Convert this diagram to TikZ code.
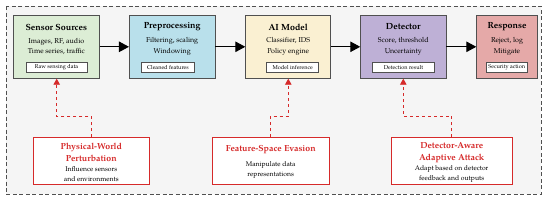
\documentclass[tikz,border=0pt]{standalone}
\usepackage{fontspec}
\setmainfont{TeX Gyre Pagella}
\usetikzlibrary{arrows.meta}
\definecolor{bggray}{HTML}{F5F5F5}
\definecolor{cgreen}{HTML}{DCEDD5}
\definecolor{cblue}{HTML}{B9E0EB}
\definecolor{ccream}{HTML}{FAF0D2}
\definecolor{cpurple}{HTML}{BEB0D6}
\definecolor{cpink}{HTML}{E5A9A8}
\definecolor{cred}{HTML}{D62A2A}
\definecolor{cborder}{HTML}{505050}
\tikzset{
  stage/.style={draw=cborder, line width=0.8pt, minimum height=63pt, inner sep=0pt},
  lbl/.style={draw=cborder, fill=white, line width=0.5pt, minimum height=9.5pt, inner sep=0pt, font=\fontsize{5.6}{6}\selectfont},
  ttl/.style={font=\bfseries\fontsize{8.9}{9}\selectfont},
  sub/.style={font=\fontsize{7.1}{10.6}\selectfont, align=center},
  flow/.style={line width=1.1pt, -{Triangle[length=10pt,width=10.5pt]}},
  attack/.style={draw=cred, fill=white, line width=0.8pt, minimum height=46.5pt, inner sep=0pt},
  atk/.style={draw=cred, dashed, line width=0.8pt, -{Triangle[length=6pt,width=6.5pt]}},
  rttl/.style={font=\bfseries\fontsize{8.8}{11.5}\selectfont, text=cred, align=center},
  rsub/.style={font=\fontsize{6.8}{10}\selectfont, align=center}
}
\begin{document}
\begin{tikzpicture}[x=1pt,y=-1pt]
\useasboundingbox (0,0) rectangle (550,201);
\draw[dashed, draw=cborder, line width=0.7pt, fill=bggray, dash pattern=on 4pt off 2.5pt] (6,6) rectangle (541,194);
% stages
\node[stage, fill=cgreen, minimum width=86pt] (s1) at (56.3,46.8) {};
\node[stage, fill=cblue, minimum width=85.7pt] (s2) at (172.2,46.8) {};
\node[stage, fill=ccream, minimum width=85pt] (s3) at (288.2,46.8) {};
\node[stage, fill=cpurple, minimum width=85.3pt] (s4) at (403.3,46.8) {};
\node[stage, fill=cpink, minimum width=60.6pt] (s5) at (507,46.8) {};
% titles
\node[ttl] (t1) at (56.3,27) {Sensor Sources};
\node[ttl] (t2) at (172.2,27) {Preprocessing};
\node[ttl] (t3) at (288.2,27) {AI Model};
\node[ttl] (t4) at (403.3,27) {Detector};
\node[ttl] (t5) at (507,27) {Response};
% subtitles
\node[sub] (d1) at (56.3,46.5) {Images, RF, audio\\Time series, traffic};
\node[sub] (d2) at (172.2,46.5) {Filtering, scaling\\Windowing};
\node[sub] (d3) at (288.2,46.5) {Classifier, IDS\\Policy engine};
\node[sub] (d4) at (403.3,46.5) {Score, threshold\\Uncertainty};
\node[sub] (d5) at (507,46.5) {Reject, log\\Mitigate};
% labels
\node[lbl, minimum width=61.3pt] (l1) at (56.6,67.2) {Raw sensing data};
\node[lbl, minimum width=52.7pt] (l2) at (168,67.2) {Cleaned features};
\node[lbl, minimum width=52pt] (l3) at (292.7,67.2) {Model inference};
\node[lbl, minimum width=61.6pt] (l4) at (403.5,67.2) {Detection result};
\node[lbl, minimum width=41pt] (l5) at (506.8,67.2) {Security action};
% flow arrows
\draw[flow] (s1) -- (s2);
\draw[flow] (s2) -- (s3);
\draw[flow] (s3) -- (s4);
\draw[flow] (s4) -- (s5);
% attack boxes
\node[attack, minimum width=116pt] (a1) at (91.3,160.8) {};
\node[attack, minimum width=116.7pt] (a2) at (270.7,160.8) {};
\node[attack, minimum width=121.3pt] (a3) at (451.7,160.8) {};
\node[rttl] (at1) at (91.3,152.5) {Physical-World\\Perturbation};
\node[rsub] (ad1) at (91.3,174) {Influence sensors\\and environments};
\node[rttl] (at2) at (270.7,150) {Feature-Space Evasion};
\node[rsub] (ad2) at (270.7,169.6) {Manipulate data\\representations};
\node[rttl] (at3) at (451.7,152.8) {Detector-Aware\\Adaptive Attack};
\node[rsub] (ad3) at (451.7,173.9) {Adapt based on detector\\feedback and outputs};
% attack connectors
\coordinate (b1) at (56.7,116);
\coordinate (b2) at (288.3,116);
\coordinate (b3) at (403.3,116);
\draw[atk] (a1.north) |- (b1) -- (s1.south -| b1);
\draw[atk] (a2.north) |- (b2) -- (s3.south -| b2);
\draw[atk] (a3.north) |- (b3) -- (s4.south -| b3);
\end{tikzpicture}
\end{document}
